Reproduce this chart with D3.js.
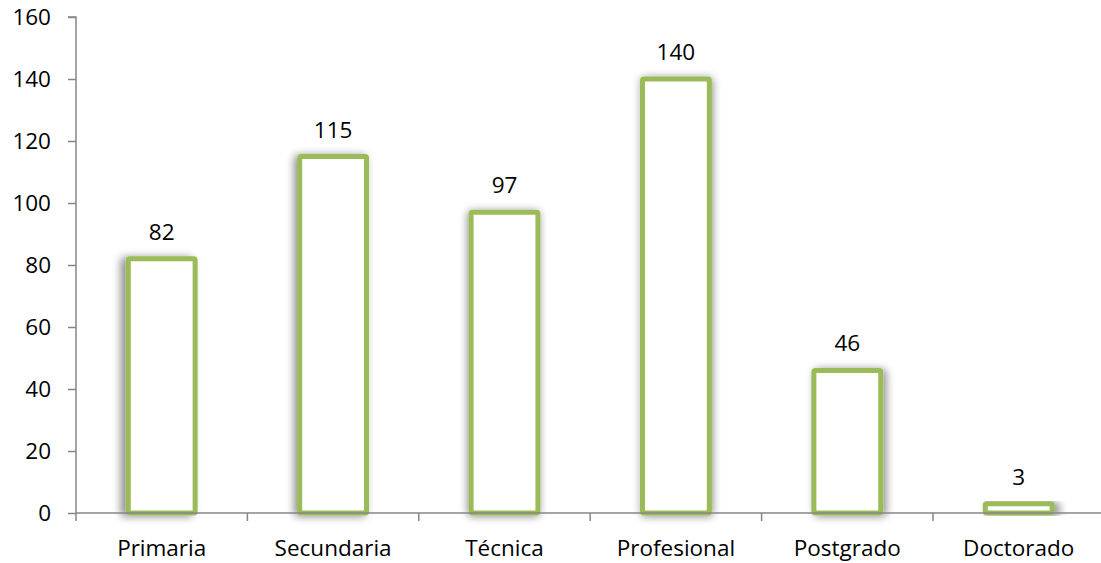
<!DOCTYPE html>
<html><head><meta charset="utf-8">
<script src="https://cdn.jsdelivr.net/npm/d3@7"></script>
<style>body{margin:0;background:#fff}svg{display:block}</style>
</head><body>
<svg id="c" width="1101" height="563"></svg>
<script>
const categories = ["Primaria","Secundaria","Técnica","Profesional","Postgrado","Doctorado"];
const values = [82,115,97,140,46,3];
const yTicks = [0,20,40,60,80,100,120,140,160];

const W=1101,H=563;
const m={l:76,t:17,b:50};
const svg=d3.select("#c");
const font="'Open Sans', sans-serif";
const fs=22.5;
const x=d3.scaleBand().domain(categories).range([m.l,m.l+6*171.4]).paddingInner(0.61).paddingOuter(0.305);
const y=d3.scaleLinear().domain([0,160]).range([H-m.b,m.t]);
const green="#9BBB59", axisC="#868686";

const defs=svg.append("defs");
const cx0=m.l+3*171.4;
categories.forEach((c,i)=>{
  const cx=x(c)+x.bandwidth()/2;
  const f=defs.append("filter").attr("id","sh"+i).attr("x","-40%").attr("y","-30%").attr("width","180%").attr("height","160%");
  f.append("feGaussianBlur").attr("in","SourceAlpha").attr("stdDeviation",4).attr("result","b");
  f.append("feOffset").attr("in","b").attr("dx",(cx-cx0)/500*6).attr("dy",1).attr("result","o");
  f.append("feComponentTransfer").attr("in","o").attr("result","o2").append("feFuncA").attr("type","linear").attr("slope",0.45);
  const mg=f.append("feMerge");
  mg.append("feMergeNode").attr("in","o2");
  mg.append("feMergeNode").attr("in","SourceGraphic");
});

// y axis
const ya=svg.append("g").attr("transform",`translate(${m.l},0)`)
  .call(d3.axisLeft(y).tickValues(yTicks).tickSize(8).tickPadding(17));
ya.select(".domain").attr("stroke",axisC).attr("stroke-width",1.5).attr("d",`M-8,${y(160)}H0V${y(0)}`);
ya.selectAll(".tick line").attr("stroke",axisC).attr("stroke-width",1.5);
ya.selectAll("text").attr("font-family",font).attr("font-size",fs).attr("fill","#000");

// bars
svg.append("g").selectAll("rect").data(values).join("rect")
  .attr("x",(d,i)=>x(categories[i]))
  .attr("y",d=>y(d))
  .attr("width",x.bandwidth())
  .attr("height",d=>y(0)-y(d))
  .attr("fill","#fff").attr("stroke",green).attr("stroke-width",5).attr("rx",1.5)
  .attr("filter",(d,i)=>`url(#sh${i})`);

// x axis
const xa=svg.append("g").attr("transform",`translate(0,${y(0)})`);
xa.append("line").attr("x1",m.l).attr("x2",W).attr("stroke",axisC).attr("stroke-width",1.5);
const step=x.step();
d3.range(categories.length).forEach(i=>{
  const xx=m.l+i*step;
  xa.append("line").attr("x1",xx).attr("x2",xx).attr("y1",0).attr("y2",8).attr("stroke",axisC).attr("stroke-width",1.5);
});
xa.selectAll("text.cat").data(categories).join("text").attr("class","cat")
  .attr("x",c=>x(c)+x.bandwidth()/2).attr("y",43)
  .attr("text-anchor","middle").attr("font-family",font).attr("font-size",fs).text(c=>c);

// value labels
svg.append("g").selectAll("text").data(values).join("text")
  .attr("x",(d,i)=>x(categories[i])+x.bandwidth()/2)
  .attr("y",d=>y(d)-19)
  .attr("text-anchor","middle").attr("font-family",font).attr("font-size",fs).text(d=>d);
</script>
</body></html>
